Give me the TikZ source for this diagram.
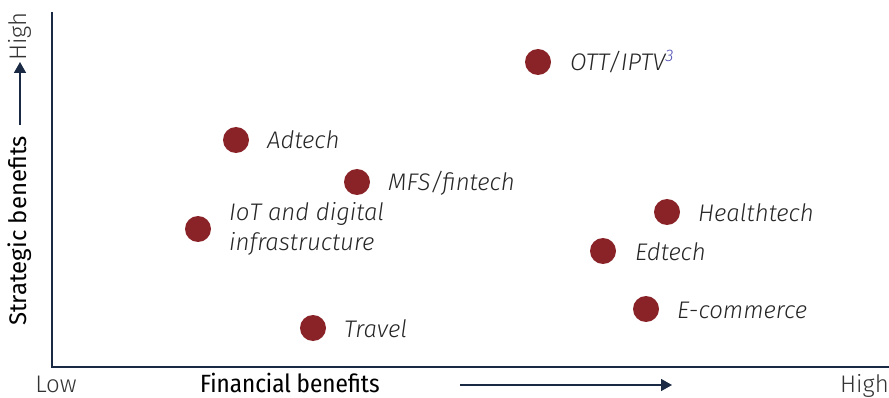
\documentclass[tikz,border=0pt]{standalone}
\usepackage{fontspec}
\setmainfont{Fira Sans}[UprightFont=* Light, ItalicFont=* Light Italic]
\newfontfamily\narrowfont{Fira Sans Condensed}
\newfontfamily\regfont{Fira Sans}
\usetikzlibrary{arrows.meta}
\definecolor{navy}{HTML}{1B2A44}
\definecolor{dotred}{HTML}{8A2328}
\tikzset{
  dot/.style={circle,fill=dotred,minimum size=26pt,inner sep=0pt},
  lbl/.style={anchor=west,inner sep=0pt,font=\fontsize{24}{30}\selectfont\itshape,align=left,text=black!85},
  axislbl/.style={inner sep=0pt,font=\fontsize{24}{26}\selectfont,text=black!80}
}
\begin{document}
\begin{tikzpicture}[x=1pt,y=-1pt]
\useasboundingbox (0,0) rectangle (889,398);
% axes
\coordinate (top) at (52,12);
\coordinate (origin) at (52,367);
\coordinate (right) at (889,367);
\draw [navy,line width=2.5pt] (top) -- (origin) -- (right);
% points
\node [dot] (ott) at (538,62) {};
\node [lbl] at (570,62) {OTT/IPTV\textsuperscript{\color{blue!40!gray}3}};
\node [dot] (adtech) at (236,140) {};
\node [lbl] at (267,140) {Adtech};
\node [dot] (mfs) at (357,182) {};
\node [lbl] at (388,183) {MFS/fintech};
\node [dot] (iot) at (198,229) {};
\node [lbl] at (229,229) {IoT and digital\\infrastructure};
\node [dot] (health) at (667,212) {};
\node [lbl] at (698,213) {Healthtech};
\node [dot] (edtech) at (603,251) {};
\node [lbl] at (635,252) {Edtech};
\node [dot] (ecom) at (646,309) {};
\node [lbl] at (677,310) {E-commerce};
\node [dot] (travel) at (313,328) {};
\node [lbl] at (344,329) {Travel};
% x axis labels
\node [axislbl,anchor=base] (xlow) at (56,392) {Low};
\node [axislbl,anchor=base west] (xname) at (200,392) {\narrowfont\fontsize{25}{26}\selectfont\color{black} Financial benefits};
\coordinate (xa) at (460,385);
\coordinate (xb) at (672,385);
\draw [navy,line width=1.6pt,-{Triangle[length=11pt,width=12pt]}] (xa) -- (xb);
\node [axislbl,anchor=base east] (xhigh) at (889,392) {High};
% y axis labels
\node [axislbl,rotate=90,anchor=west] (yname) at (20,326) {\regfont\color{black}Strategic benefits};
\coordinate (ya) at (20,125);
\coordinate (yb) at (20,62);
\draw [navy,line width=1.6pt,-{Triangle[length=11pt,width=12pt]}] (ya) -- (yb);
\node [axislbl,rotate=90,anchor=east] (yhigh) at (20,12) {High};
\end{tikzpicture}
\end{document}
